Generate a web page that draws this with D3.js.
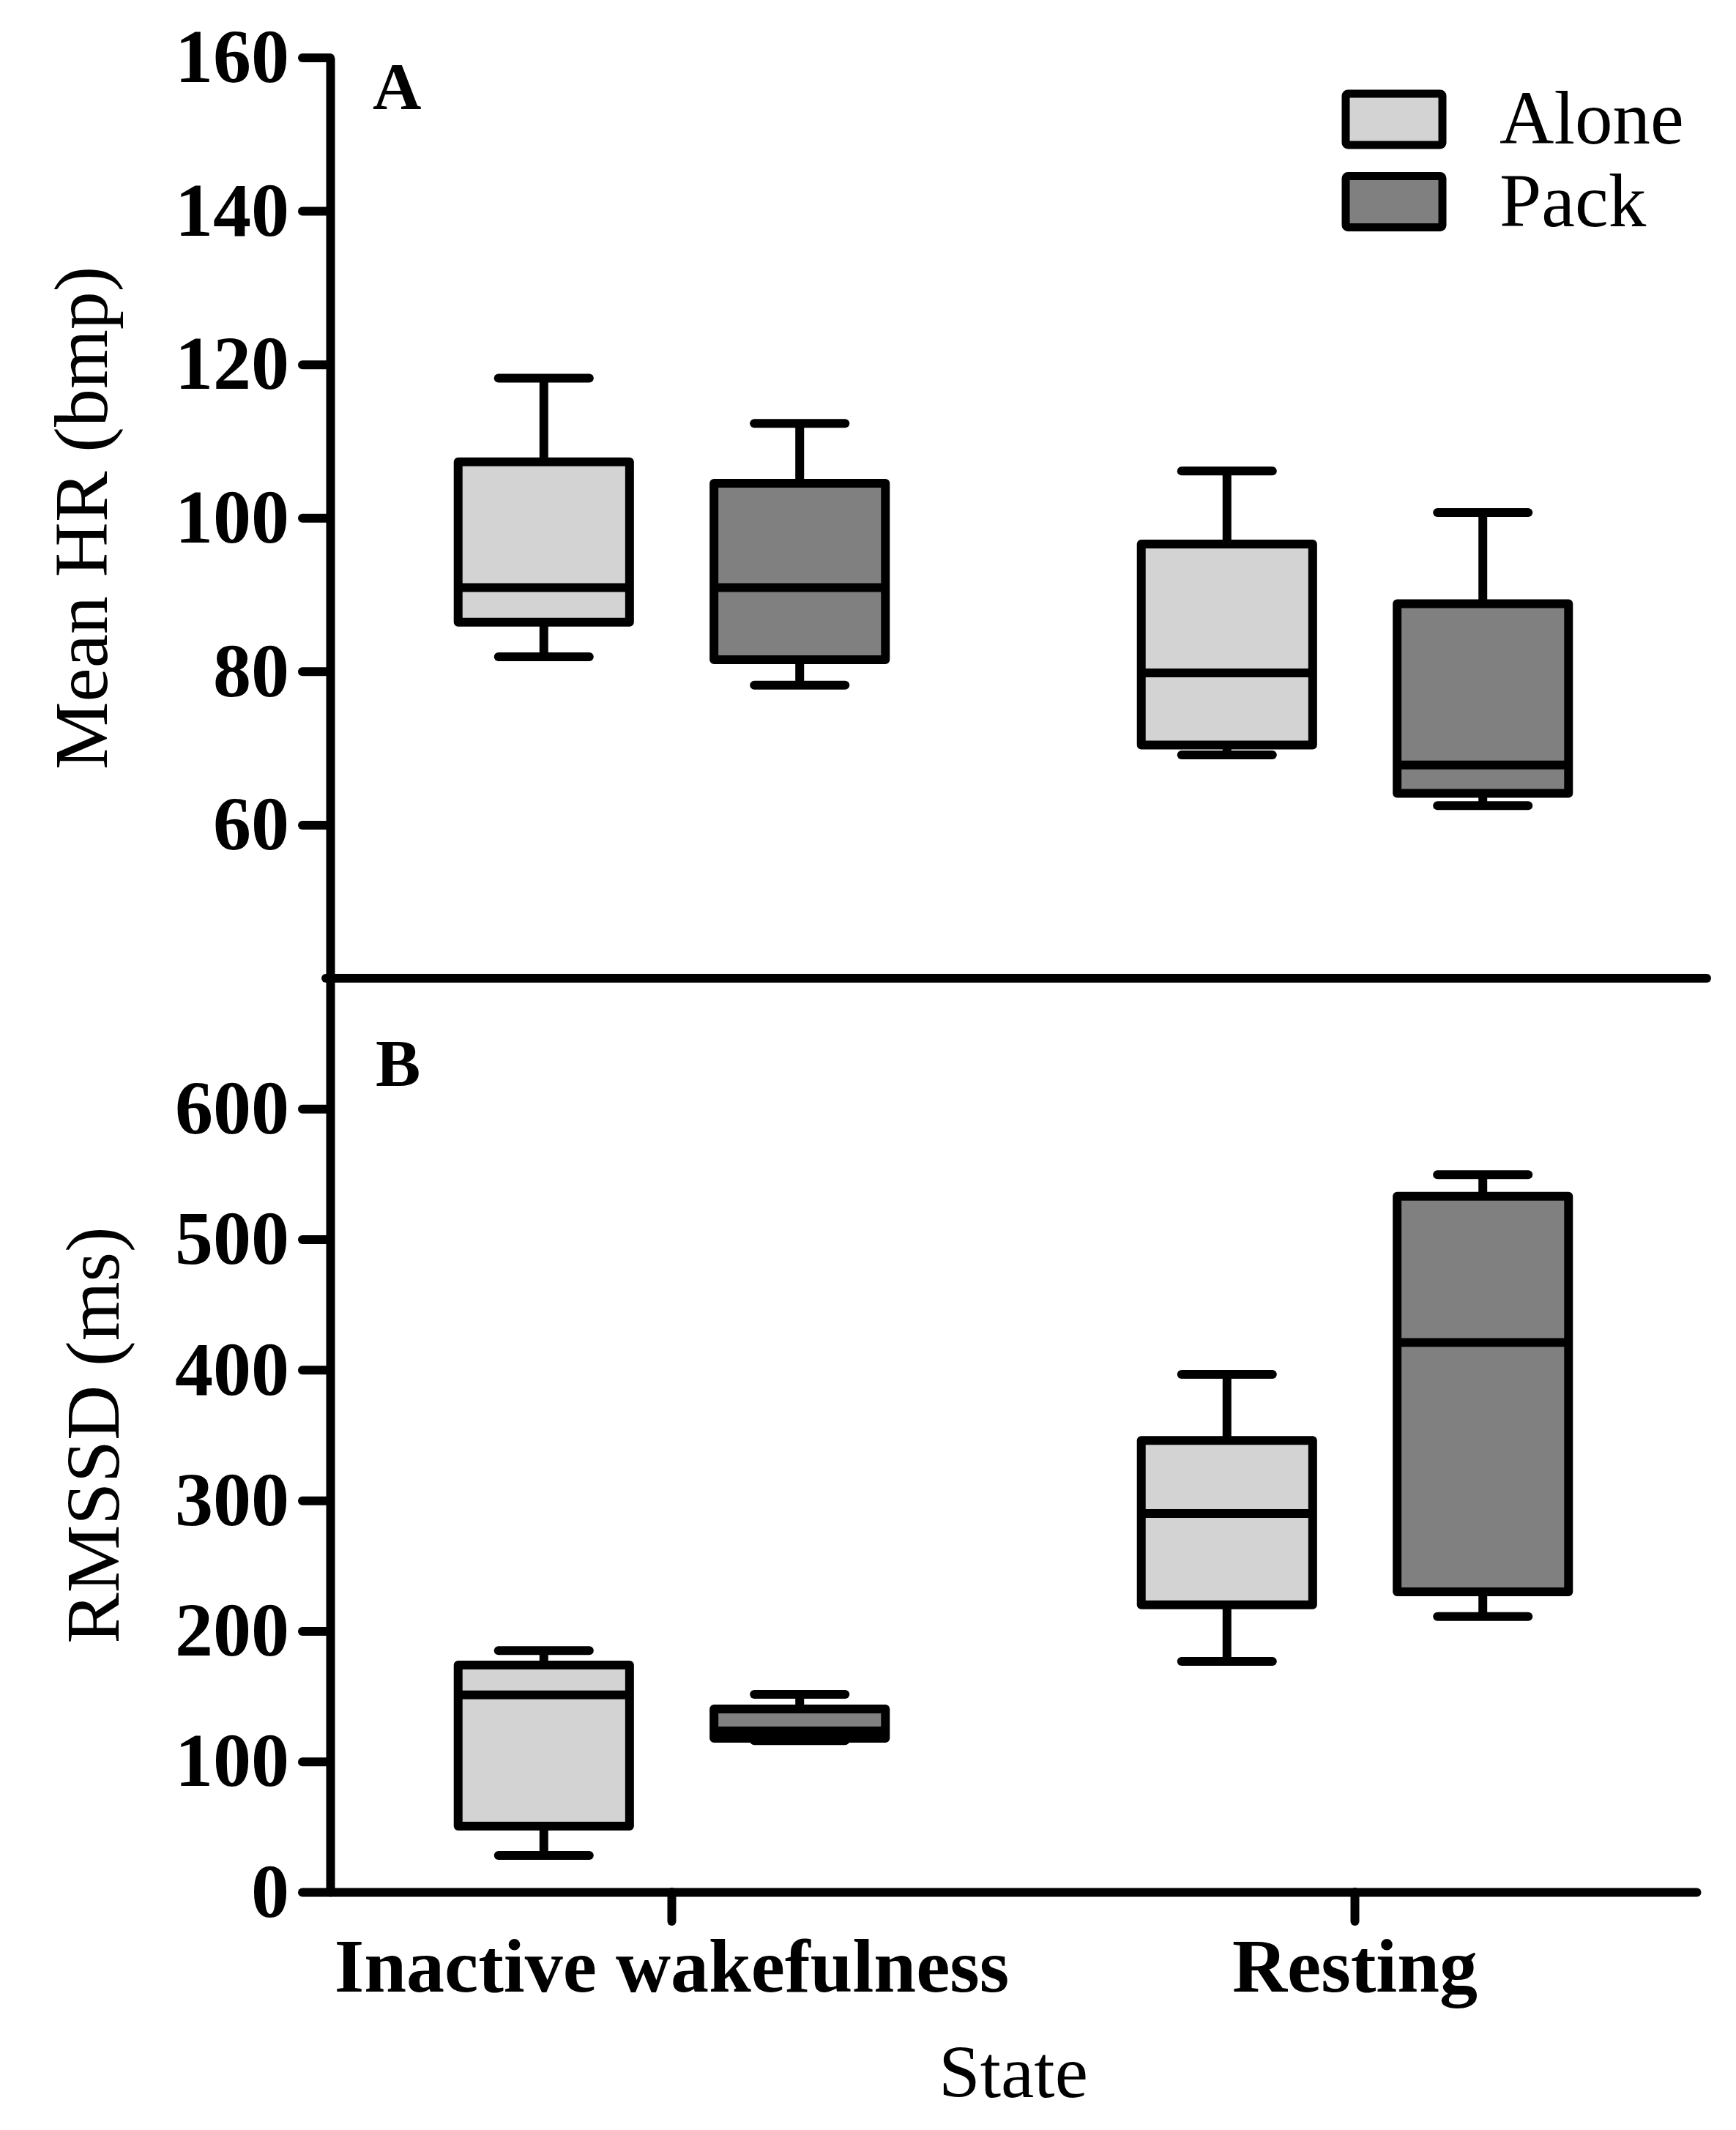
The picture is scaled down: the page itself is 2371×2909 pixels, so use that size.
<!DOCTYPE html>
<html>
<head>
<meta charset="utf-8">
<script src="https://cdn.jsdelivr.net/npm/d3@7"></script>
<style>
  body { margin: 0; background: #fff; }
  svg { display: block; }
</style>
</head>
<body>
<div id="chart"></div>
<script>
const categories = ["Inactive wakefulness", "Resting"];
const groups = ["Alone", "Pack"];

// [min, q1, median, q3, max] per category
const hrAlone = [[81.9, 86.4, 90.9, 107.3, 118.2], [69.1, 70.4, 79.8, 96.6, 106.1]];
const hrPack = [[78.2, 81.5, 90.9, 104.5, 112.3], [62.5, 64.1, 67.8, 88.8, 100.7]];
const rmssdAlone = [[28, 50.5, 151, 173.9, 185], [176.7, 220, 290, 346, 396.5]];
const rmssdPack = [[116, 117.8, 123.4, 140.2, 151.4], [211, 230, 421, 533, 549.5]];

const hrTicks = [60, 80, 100, 120, 140, 160];
const rmssdTicks = [0, 100, 200, 300, 400, 500, 600];

const colors = { Alone: "#d3d3d3", Pack: "#808080" };
const font = "'Liberation Serif', 'Times New Roman', serif";
const lw = 12;

const W = 2371, H = 2909;
const left = 451, right = 2317, sepRight = 2331;
const topA = 78.5, sep = 1336, bottomB = 2584;

const svg = d3.select("#chart")
    .append("svg")
    .attr("width", W)
    .attr("height", H)
    .attr("viewBox", `0 0 ${W} ${H}`);

svg.append("rect").attr("width", W).attr("height", H).attr("fill", "#fff");

const x = d3.scaleBand()
    .domain(categories)
    .range([left, right])
    .padding(0);

const xSub = d3.scaleBand()
    .domain(groups)
    .range([0, x.bandwidth()])
    .paddingInner(0.33)
    .paddingOuter(0.5);

const yA = d3.scaleLinear().domain([40, 160]).range([sep, topA]);
const yB = d3.scaleLinear().domain([0, 700]).range([bottomB, sep]);

function styleAxis(g) {
    g.select(".domain").attr("stroke", "#000").attr("stroke-width", lw);
    g.selectAll(".tick line").attr("stroke", "#000").attr("stroke-width", lw).attr("stroke-linecap", "round");
    g.selectAll(".tick text")
        .attr("fill", "#000")
        .style("font-family", font)
        .style("font-weight", "bold")
        .style("font-size", "104px");
}

// y axes
svg.append("g")
    .attr("transform", `translate(${left},0)`)
    .call(d3.axisLeft(yA).tickValues(hrTicks).tickSize(38).tickSizeOuter(0).tickPadding(18))
    .call(styleAxis);

svg.append("g")
    .attr("transform", `translate(${left},0)`)
    .call(d3.axisLeft(yB).tickValues(rmssdTicks).tickSize(38).tickSizeOuter(0).tickPadding(18))
    .call(styleAxis);

// separator / x axis of panel A
svg.append("line")
    .attr("x1", left - lw / 2)
    .attr("x2", sepRight)
    .attr("y1", yA(40))
    .attr("y2", yA(40))
    .attr("stroke", "#000")
    .attr("stroke-width", lw)
    .attr("stroke-linecap", "round");

// bottom x axis
svg.append("g")
    .attr("transform", `translate(0,${bottomB})`)
    .call(d3.axisBottom(x).tickSize(40).tickSizeOuter(0).tickPadding(22))
    .call(styleAxis)
    .call(g => g.select(".domain").attr("stroke-linecap", "round"));

function drawBoxes(y, alone, pack) {
    const rows = [];
    categories.forEach((c, i) => {
        rows.push({ cat: c, grp: "Alone", v: alone[i] });
        rows.push({ cat: c, grp: "Pack", v: pack[i] });
    });

    const bw = xSub.bandwidth();
    const capW = bw * 0.53;

    const g = svg.append("g")
        .selectAll("g")
        .data(rows)
        .join("g")
        .attr("transform", d => `translate(${x(d.cat) + xSub(d.grp)},0)`);

    // whiskers
    g.append("line")
        .attr("x1", bw / 2).attr("x2", bw / 2)
        .attr("y1", d => y(d.v[4])).attr("y2", d => y(d.v[3]))
        .attr("stroke", "#000").attr("stroke-width", lw);
    g.append("line")
        .attr("x1", bw / 2).attr("x2", bw / 2)
        .attr("y1", d => y(d.v[0])).attr("y2", d => y(d.v[1]))
        .attr("stroke", "#000").attr("stroke-width", lw);

    // caps
    g.selectAll(".cap")
        .data(d => [d.v[0], d.v[4]])
        .join("line")
        .attr("class", "cap")
        .attr("x1", bw / 2 - capW / 2).attr("x2", bw / 2 + capW / 2)
        .attr("y1", v => y(v)).attr("y2", v => y(v))
        .attr("stroke", "#000").attr("stroke-width", lw)
        .attr("stroke-linecap", "round");

    // box
    g.append("rect")
        .attr("x", 0)
        .attr("width", bw)
        .attr("y", d => y(d.v[3]))
        .attr("height", d => y(d.v[1]) - y(d.v[3]))
        .attr("fill", d => colors[d.grp])
        .attr("stroke", "#000")
        .attr("stroke-width", lw)
        .attr("stroke-linejoin", "round");

    // median
    g.append("line")
        .attr("x1", 0).attr("x2", bw)
        .attr("y1", d => y(d.v[2])).attr("y2", d => y(d.v[2]))
        .attr("stroke", "#000").attr("stroke-width", lw);
}

drawBoxes(yA, hrAlone, hrPack);
drawBoxes(yB, rmssdAlone, rmssdPack);

// panel letters
svg.append("text")
    .attr("x", 509).attr("y", 149)
    .style("font-family", font).style("font-weight", "bold").style("font-size", "92px")
    .text("A");
svg.append("text")
    .attr("x", 513).attr("y", 1483)
    .style("font-family", font).style("font-weight", "bold").style("font-size", "92px")
    .text("B");

// axis titles
svg.append("text")
    .attr("transform", `translate(146,${(yA.range()[0] + yA.range()[1]) / 2}) rotate(-90)`)
    .attr("text-anchor", "middle")
    .style("font-family", font).style("font-size", "104px")
    .text("Mean HR (bmp)");

svg.append("text")
    .attr("transform", `translate(162,${(yB.range()[0] + yB.range()[1]) / 2}) rotate(-90)`)
    .attr("text-anchor", "middle")
    .style("font-family", font).style("font-size", "104px")
    .text("RMSSD (ms)");

svg.append("text")
    .attr("x", (left + right) / 2)
    .attr("y", 2864)
    .attr("text-anchor", "middle")
    .style("font-family", font).style("font-size", "102px")
    .text("State");

// legend
const legend = svg.append("g")
    .attr("class", "legend")
    .attr("transform", "translate(1838,128)");

const legendItem = legend.selectAll(".legend-item")
    .data(groups)
    .join("g")
    .attr("class", "legend-item")
    .attr("transform", (d, i) => `translate(0,${i * 112.5})`);

legendItem.append("rect")
    .attr("width", 132)
    .attr("height", 70)
    .attr("rx", 3)
    .attr("fill", d => colors[d])
    .attr("stroke", "#000")
    .attr("stroke-width", 11)
    .attr("stroke-linejoin", "round");

legendItem.append("text")
    .attr("x", 210)
    .attr("y", 68)
    .style("font-family", font)
    .style("font-size", "103px")
    .text(d => d);
</script>
</body>
</html>
